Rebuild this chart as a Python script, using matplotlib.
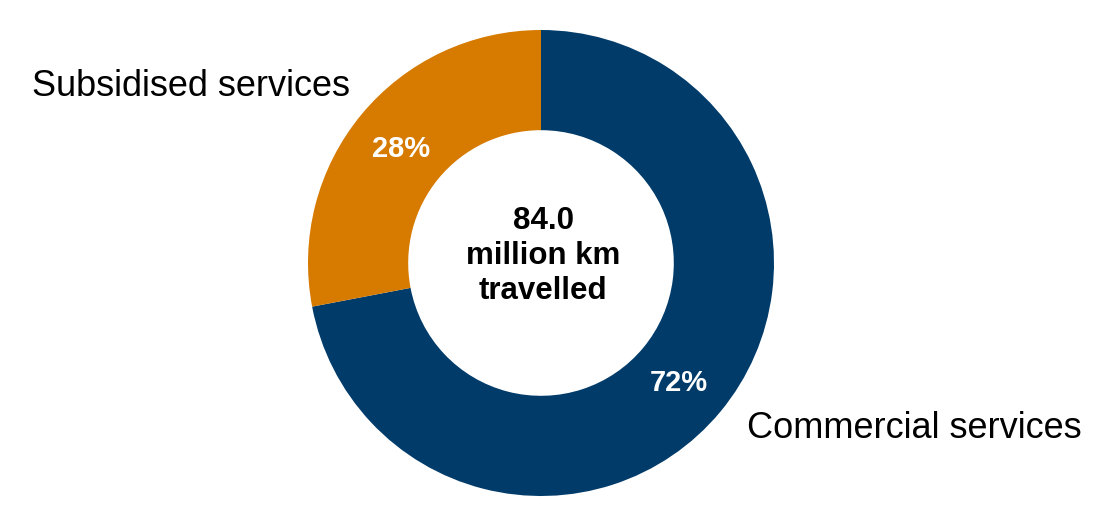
import matplotlib
matplotlib.use("Agg")
import matplotlib.pyplot as plt

plt.rcParams['font.family'] = ['Liberation Sans', 'DejaVu Sans']

categories = ["Commercial services", "Subsidised services"]
shares = [72, 28]
colors = ["#003B6A", "#D67A00"]
total_km = "84.0"

fig = plt.figure(figsize=(11.13, 5.14), dpi=100)
ax = fig.add_axes([0, 0, 1, 1])

cx, cy, r = 541, 251, 233
wedges, _ = ax.pie(shares, colors=colors, startangle=90, counterclock=False,
                   center=(cx, cy), radius=r, frame=True,
                   wedgeprops=dict(width=r * 0.43, linewidth=0))
ax.set_xlim(0, 1113)
ax.set_ylim(0, 514)
ax.set_aspect("equal")
ax.axis("off")

# percentage labels
ax.text(679, 514 - 383, f"{shares[0]}%", color="white", fontsize=21,
        fontweight="bold", ha="center", va="center")
ax.text(401, 514 - 149, f"{shares[1]}%", color="white", fontsize=21,
        fontweight="bold", ha="center", va="center")

# category labels
ax.text(747, 514 - 428, categories[0], fontsize=26, ha="left", va="center")
ax.text(32, 514 - 86, categories[1], fontsize=26, ha="left", va="center")

# centre text
ax.text(cx + 2, 514 - 256, f"{total_km}\nmillion km\ntravelled", fontsize=22.5,
        fontweight="bold", ha="center", va="center", linespacing=1.2)

fig.savefig("out.png", dpi=100)
